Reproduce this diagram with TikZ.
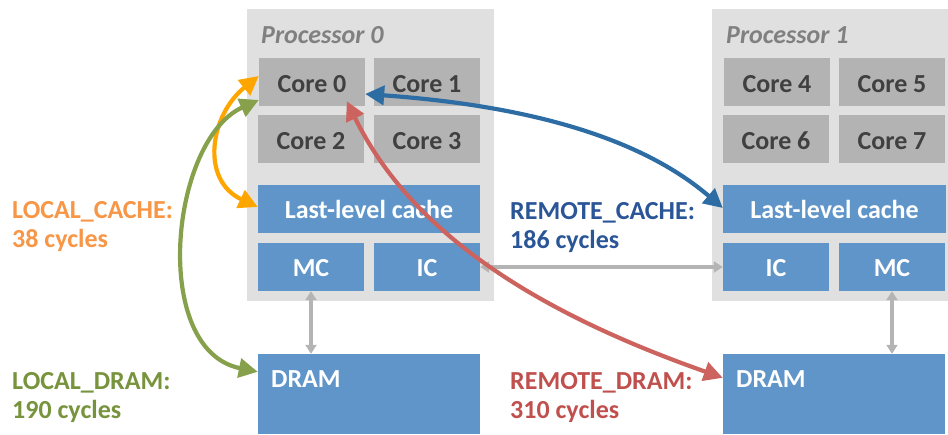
\documentclass[tikz,border=0pt]{standalone}
\usepackage{fontspec}
\setmainfont{Carlito}
\usetikzlibrary{arrows.meta}

\definecolor{procbg}{RGB}{224,224,224}
\definecolor{corebg}{RGB}{179,179,179}
\definecolor{coretext}{RGB}{64,64,64}
\definecolor{unitbg}{RGB}{96,149,201}
\definecolor{proclabel}{RGB}{128,128,128}
\definecolor{link}{RGB}{180,180,180}
\definecolor{lcarrow}{RGB}{255,165,0}
\definecolor{lclabel}{RGB}{247,150,70}
\definecolor{ldarrow}{RGB}{134,160,75}
\definecolor{ldlabel}{RGB}{119,147,60}
\definecolor{rcarrow}{RGB}{46,109,164}
\definecolor{rclabel}{RGB}{42,85,151}
\definecolor{rdarrow}{RGB}{205,99,94}
\definecolor{rdlabel}{RGB}{192,80,77}

\tikzset{
  x=1pt, y=-1pt,
  procbox/.style={fill=procbg, draw=none, minimum height=292pt, inner sep=0pt},
  corebox/.style={fill=corebg, draw=none, minimum width=106pt, minimum height=48pt,
    inner sep=0pt, text height=21pt, text depth=0pt, text=coretext,
    font=\fontsize{26}{28}\selectfont\bfseries},
  unitbox/.style={fill=unitbg, draw=none, minimum height=48pt,
    inner sep=0pt, text height=19pt, text depth=0pt, text=white,
    font=\fontsize{26}{28}\selectfont\bfseries},
  drambox/.style={fill=unitbg, draw=none, minimum width=222pt, minimum height=80pt, inner sep=0pt},
  proctitle/.style={text=proclabel, font=\fontsize{26}{28}\selectfont\bfseries\itshape, anchor=west, inner sep=0pt},
  dramtitle/.style={text=white, font=\fontsize{26}{28}\selectfont\bfseries, anchor=west, inner sep=0pt},
  latency/.style={font=\fontsize{26}{29}\selectfont\bfseries, align=left, anchor=west, inner sep=0pt},
  buslink/.style={draw=link, line width=3.2pt, {Triangle[length=9pt,width=11pt]}-{Triangle[length=9pt,width=11pt]}},
  access/.style={line width=4.2pt, {Triangle[length=19pt,width=19pt]}-{Triangle[length=19pt,width=19pt]}},
}

\begin{document}
\begin{tikzpicture}
\useasboundingbox (0,0) rectangle (948,434);

% processor packages
\node[procbox, minimum width=247pt] (p0) at (370.5,155) {};
\node[procbox, minimum width=236pt] (p1) at (830,155) {};
\node[proctitle] (p0t) at (261,35) {Processor 0};
\node[proctitle] (p1t) at (726,35) {Processor 1};

% cores
\node[corebox] (c0) at (312,82) {Core 0};
\node[corebox] (c1) at (427,82) {Core 1};
\node[corebox] (c2) at (311,139) {Core 2};
\node[corebox] (c3) at (427,139) {Core 3};
\node[corebox] (c4) at (777,82) {Core 4};
\node[corebox] (c5) at (892,82) {Core 5};
\node[corebox] (c6) at (776,139) {Core 6};
\node[corebox] (c7) at (892,139) {Core 7};

% caches and controllers
\node[unitbox, minimum width=222pt] (llc0) at (369,209) {Last-level cache};
\node[unitbox, minimum width=223pt] (llc1) at (834.5,209) {Last-level cache};
\node[unitbox, minimum width=106pt] (mc0) at (311,267) {MC};
\node[unitbox, minimum width=106pt] (ic0) at (427,267) {IC};
\node[unitbox, minimum width=106pt] (ic1) at (776,267) {IC};
\node[unitbox, minimum width=106pt] (mc1) at (892,267) {MC};

% memory
\node[drambox] (d0) at (369,394) {};
\node[drambox] (d1) at (834,394) {};
\node[dramtitle] (d0t) at (271,379) {DRAM};
\node[dramtitle] (d1t) at (736,379) {DRAM};

% interconnect and memory buses
\draw[buslink] (mc0.south) -- (mc0.south |- d0.north);
\draw[buslink] (mc1.south) -- (mc1.south |- d1.north);
\draw[buslink] (ic0.east) -- (ic1.west);

% access paths
\draw[access, draw=lcarrow] ([yshift=6pt]c0.west) .. controls (210,115) and (200,180) .. ([yshift=2pt]llc0.west);
\draw[access, draw=ldarrow] ([yshift=-18pt]c0.west) .. controls (170,140) and (150,350) .. ([yshift=-18pt]d0.north west);
\draw[access, draw=rcarrow] ([yshift=-12pt]c0.east) .. controls (560,108) and (655,150) .. ([yshift=1pt]llc1.west);
\draw[access, draw=rdarrow] ([xshift=88pt,yshift=5pt]c0.south west) .. controls (410,230) and (530,310) .. ([yshift=-24pt]d1.north west);

% latency labels
\node[latency, text=lclabel] (lc) at (12,227) {LOCAL\_CACHE:\\38 cycles};
\node[latency, text=rclabel] (rc) at (510,228) {REMOTE\_CACHE:\\186 cycles};
\node[latency, text=ldlabel] (ld) at (12,398) {LOCAL\_DRAM:\\190 cycles};
\node[latency, text=rdlabel] (rd) at (510,398) {REMOTE\_DRAM:\\310 cycles};
\end{tikzpicture}
\end{document}
